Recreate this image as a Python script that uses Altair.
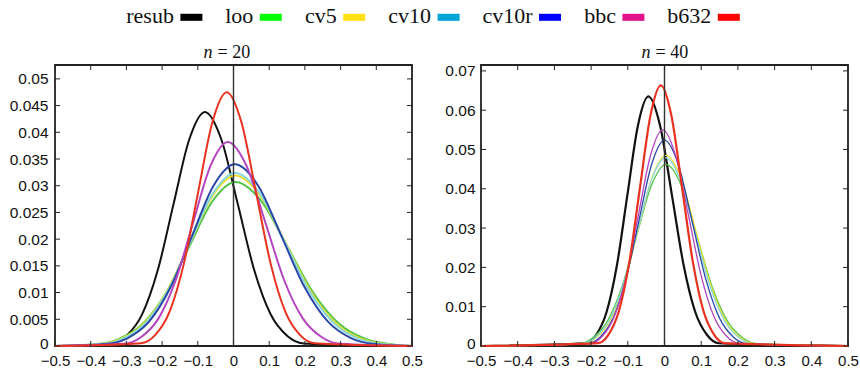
import altair as alt
import pandas as pd

names = ["resub", "loo", "cv5", "cv10", "cv10r", "bbc", "b632"]
swatch_colors = ["#000000", "#00ff00", "#ffe014", "#00a5d8", "#0000ff", "#e0118a", "#ff0000"]
line_colors = ["#111111", "#55c24a", "#ecdc22", "#86d8e0", "#2b47a6", "#b444bf", "#e8321f"]

x_ticks = [-0.5, -0.4, -0.3, -0.2, -0.1, 0, 0.1, 0.2, 0.3, 0.4, 0.5]
y_ticks_20 = [0, 0.005, 0.01, 0.015, 0.02, 0.025, 0.03, 0.035, 0.04, 0.045, 0.05]
y_ticks_40 = [0, 0.01, 0.02, 0.03, 0.04, 0.05, 0.06, 0.07]

# ---- n = 20 ----
resub20_x = [-0.5, -0.344, -0.300, -0.256, -0.212, -0.168, -0.124, -0.080, -0.034, 0.012, 0.058, 0.104, 0.150, 0.196, 0.5]
resub20_y = [0, 0.00049, 0.00192, 0.00593, 0.01422, 0.02656, 0.03865, 0.0438, 0.03865, 0.02656, 0.01422, 0.00593, 0.00192, 0.00049, 0]
loo20_x = [-0.5, -0.384, -0.319, -0.254, -0.189, -0.124, -0.059, 0.006, 0.0785, 0.151, 0.2235, 0.296, 0.3685, 0.441, 0.5]
loo20_y = [0, 0.00034, 0.00135, 0.00415, 0.00997, 0.01862, 0.02709, 0.0307, 0.02709, 0.01862, 0.00997, 0.00415, 0.00135, 0.00034, 0]
cv5_20_x = [-0.5, -0.376, -0.3125, -0.249, -0.1855, -0.122, -0.0585, 0.005, 0.075, 0.145, 0.215, 0.285, 0.355, 0.425, 0.5]
cv5_20_y = [0, 0.00035, 0.0014, 0.00432, 0.01036, 0.01935, 0.02815, 0.0319, 0.02815, 0.01935, 0.01036, 0.00432, 0.0014, 0.00035, 0]
cv10_20_x = [-0.5, -0.37, -0.3075, -0.245, -0.1825, -0.12, -0.0575, 0.005, 0.0735, 0.142, 0.2105, 0.279, 0.3475, 0.416, 0.5]
cv10_20_y = [0, 0.00036, 0.00142, 0.00438, 0.01052, 0.01965, 0.02859, 0.0324, 0.02859, 0.01965, 0.01052, 0.00438, 0.00142, 0.00036, 0]
cv10r_20_x = [-0.5, -0.356, -0.296, -0.236, -0.176, -0.116, -0.056, 0.004, 0.069, 0.134, 0.199, 0.264, 0.329, 0.394, 0.5]
cv10r_20_y = [0, 0.00038, 0.00149, 0.0046, 0.01104, 0.02062, 0.03, 0.034, 0.03, 0.02062, 0.01104, 0.0046, 0.00149, 0.00038, 0]
bbc20_x = [-0.5, -0.307, -0.2585, -0.21, -0.1615, -0.113, -0.0645, -0.016, 0.0365, 0.089, 0.1415, 0.194, 0.2465, 0.299, 0.5]
bbc20_y = [0, 0.00042, 0.00168, 0.00517, 0.0124, 0.02317, 0.03371, 0.0382, 0.03371, 0.02317, 0.0124, 0.00517, 0.00168, 0.00042, 0]
b632_20_x = [-0.5, -0.259, -0.219, -0.179, -0.139, -0.099, -0.059, -0.019, 0.022, 0.063, 0.104, 0.145, 0.186, 0.227, 0.5]
b632_20_y = [0, 0.00053, 0.00209, 0.00643, 0.01542, 0.02881, 0.04192, 0.0475, 0.04192, 0.02881, 0.01542, 0.00643, 0.00209, 0.00053, 0]

# ---- n = 40 ----
resub40_x = [-0.5, -0.215, -0.1865, -0.158, -0.1295, -0.101, -0.0725, -0.044, -0.012, 0.02, 0.052, 0.084, 0.116, 0.148, 0.5]
resub40_y = [0, 0.0007, 0.00279, 0.00859, 0.02062, 0.03851, 0.05604, 0.0635, 0.05604, 0.03851, 0.02062, 0.00859, 0.00279, 0.0007, 0]
loo40_x = [-0.5, -0.236, -0.196, -0.156, -0.116, -0.076, -0.036, 0.004, 0.046, 0.088, 0.13, 0.172, 0.214, 0.256, 0.5]
loo40_y = [0, 0.00051, 0.00203, 0.00625, 0.015, 0.02802, 0.04077, 0.0462, 0.04077, 0.02802, 0.015, 0.00625, 0.00203, 0.00051, 0]
cv5_40_x = [-0.5, -0.224, -0.186, -0.148, -0.11, -0.072, -0.034, 0.004, 0.0445, 0.085, 0.1255, 0.166, 0.2065, 0.247, 0.5]
cv5_40_y = [0, 0.00054, 0.00213, 0.00656, 0.01575, 0.02942, 0.0428, 0.0485, 0.0428, 0.02942, 0.01575, 0.00656, 0.00213, 0.00054, 0]
cv10_40_x = [-0.5, -0.228, -0.1895, -0.151, -0.1125, -0.074, -0.0355, 0.003, 0.043, 0.083, 0.123, 0.163, 0.203, 0.243, 0.5]
cv10_40_y = [0, 0.00053, 0.0021, 0.00648, 0.01555, 0.02905, 0.04227, 0.0479, 0.04227, 0.02905, 0.01555, 0.00648, 0.0021, 0.00053, 0]
cv10r_40_x = [-0.5, -0.21, -0.175, -0.14, -0.105, -0.07, -0.035, 0.0, 0.0375, 0.075, 0.1125, 0.15, 0.1875, 0.225, 0.5]
cv10r_40_y = [0, 0.00058, 0.0023, 0.00709, 0.01701, 0.03178, 0.04624, 0.0524, 0.04624, 0.03178, 0.01701, 0.00709, 0.0023, 0.00058, 0]
bbc40_x = [-0.5, -0.203, -0.17, -0.137, -0.104, -0.071, -0.038, -0.005, 0.03, 0.065, 0.1, 0.135, 0.17, 0.205, 0.5]
bbc40_y = [0, 0.00061, 0.00241, 0.00744, 0.01786, 0.03336, 0.04854, 0.055, 0.04854, 0.03336, 0.01786, 0.00744, 0.00241, 0.00061, 0]
b632_40_x = [-0.5, -0.181, -0.1525, -0.124, -0.0955, -0.067, -0.0385, -0.01, 0.019, 0.048, 0.077, 0.106, 0.135, 0.164, 0.5]
b632_40_y = [0, 0.00074, 0.00291, 0.00897, 0.02153, 0.04021, 0.05851, 0.0663, 0.05851, 0.04021, 0.02153, 0.00897, 0.00291, 0.00074, 0]

curves20 = [(resub20_x, resub20_y), (loo20_x, loo20_y), (cv5_20_x, cv5_20_y), (cv10_20_x, cv10_20_y),
            (cv10r_20_x, cv10r_20_y), (bbc20_x, bbc20_y), (b632_20_x, b632_20_y)]
curves40 = [(resub40_x, resub40_y), (loo40_x, loo40_y), (cv5_40_x, cv5_40_y), (cv10_40_x, cv10_40_y),
            (cv10r_40_x, cv10r_40_y), (bbc40_x, bbc40_y), (b632_40_x, b632_40_y)]

widths20 = [2.0, 2.0, 2.0, 2.0, 2.0, 2.0, 2.0]
widths40 = [2.2, 1.3, 1.3, 1.3, 1.3, 1.3, 2.2]

FRAME = "#222222"
TICK_LEN = 5
NOVIEW = alt.ViewBackground(strokeOpacity=0)


def panel(curves, widths, yticks, ydom, w, h, num, title_shift, ylabpad):
    xs = alt.Scale(domain=[-0.5, 0.5], nice=False, zero=False)
    ys = alt.Scale(domain=ydom, nice=False, zero=False)
    xaxis = alt.Axis(values=x_ticks, format="~g", ticks=False, domain=False, grid=False, title=None,
                     labelOverlap=False, labelFlush=False, labelPadding=7, labelFontSize=15)
    yaxis = alt.Axis(values=yticks, format="~g", ticks=False, domain=False, grid=False, title=None,
                     labelOverlap=False, labelFlush=False, labelPadding=ylabpad, labelFontSize=15.5,
                     labelOffset=alt.condition("datum.value == 0", alt.value(-3), alt.value(0)))
    X = lambda f: alt.X(f, scale=xs, axis=xaxis)
    Y = lambda f: alt.Y(f, scale=ys, axis=yaxis)
    layers = []
    for (cx, cy), col, sw in zip(curves, line_colors, widths):
        df = pd.DataFrame({"x": cx, "y": cy})
        layers.append(
            alt.Chart(df).mark_line(color=col, strokeWidth=sw, interpolate="monotone").encode(
                x=X("x:Q"), y=Y("y:Q"))
        )
    # vertical line at zero
    layers.append(
        alt.Chart(pd.DataFrame({"x": [0]})).mark_rule(color="#333333", strokeWidth=1.4).encode(
            x=X("x:Q"), y=alt.value(0), y2=alt.value(h))
    )
    xt = pd.DataFrame({"x": x_ticks})
    yt = pd.DataFrame({"y": yticks})
    # inner ticks: bottom, top, left, right
    layers.append(alt.Chart(xt).mark_rule(color=FRAME, strokeWidth=1).encode(
        x=X("x:Q"), y=alt.value(h - TICK_LEN), y2=alt.value(h)))
    layers.append(alt.Chart(xt).mark_rule(color=FRAME, strokeWidth=1).encode(
        x=X("x:Q"), y=alt.value(0), y2=alt.value(TICK_LEN)))
    layers.append(alt.Chart(yt).mark_rule(color=FRAME, strokeWidth=1).encode(
        y=Y("y:Q"), x=alt.value(0), x2=alt.value(TICK_LEN)))
    layers.append(alt.Chart(yt).mark_rule(color=FRAME, strokeWidth=1).encode(
        y=Y("y:Q"), x=alt.value(w - TICK_LEN), x2=alt.value(w)))
    # title "n = 20"
    cx = w / 2 + title_shift
    layers.append(alt.Chart(pd.DataFrame({"t": ["n"]})).mark_text(
        font="Liberation Serif", fontStyle="italic", fontSize=18, align="right", baseline="alphabetic",
        color="#111111").encode(text="t:N", x=alt.value(cx - 14), y=alt.value(-7)))
    layers.append(alt.Chart(pd.DataFrame({"t": ["= " + num]})).mark_text(
        font="Liberation Serif", fontSize=18, align="left", baseline="alphabetic",
        color="#111111").encode(text="t:N", x=alt.value(cx - 9), y=alt.value(-7)))
    return alt.layer(*layers).properties(width=w, height=h)


left = panel(curves20, widths20, y_ticks_20, [0, 0.0526], 357, 281, "20", -7, 7)
right = panel(curves40, widths40, y_ticks_40, [0, 0.0715], 367, 281, "40", 0, 6)

# legend: each entry is "label  [swatch]"; entries laid out by their text extents
SW_W = 22
items = []
spacer = alt.Chart(pd.DataFrame({"a": [0]})).mark_point(opacity=0, size=1).encode(
    x=alt.value(0), y=alt.value(0)).properties(width=47.6, height=30, view=NOVIEW)
items.append(spacer)
for nm, col in zip(names, swatch_colors):
    d = pd.DataFrame({"name": [nm]})
    sw = alt.Chart(d).mark_point(
        shape="M-1,-0.32L1,-0.32L1,0.32L-1,0.32Z", size=SW_W * SW_W, filled=True, opacity=1,
        strokeWidth=0, color=col).encode(x=alt.value(SW_W / 2), y=alt.value(16.3))
    tx = alt.Chart(d).mark_text(
        font="Liberation Serif", fontSize=22, align="right", baseline="alphabetic", color="#111111"
    ).encode(x=alt.value(-6.5), y=alt.value(21.7), text="name:N")
    items.append(alt.layer(sw, tx).properties(width=SW_W, height=30, view=NOVIEW))
legend = alt.hconcat(*items, spacing=22.4)

row = alt.hconcat(left, right, spacing=69, bounds="flush")
chart = alt.vconcat(legend, row, spacing=64, bounds="flush").properties(
    padding={"left": 8, "top": 0, "right": 0, "bottom": 0}
).configure(background="white").configure_view(stroke=FRAME, strokeWidth=1.8).configure_axis(
    labelFont="Liberation Sans", labelColor="#111111"
)

chart.save("out.html", embed_options={"renderer": "svg", "actions": False})
